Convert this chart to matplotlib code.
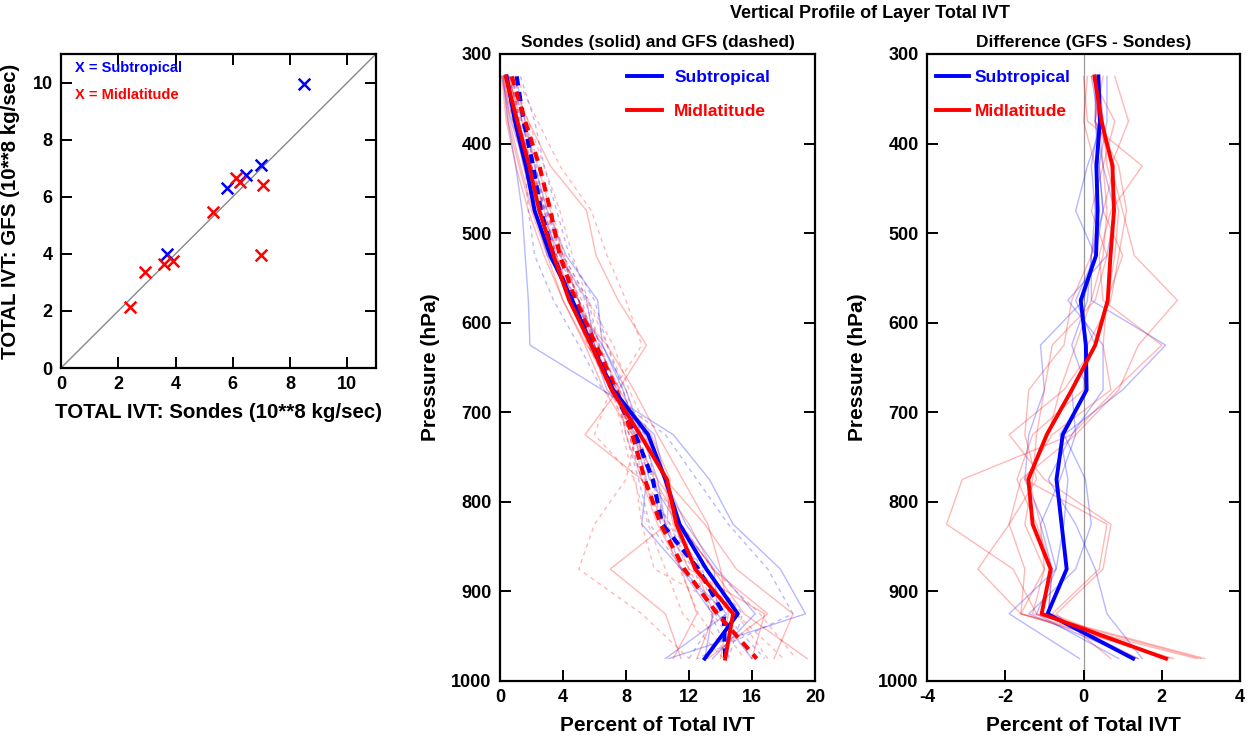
import matplotlib
matplotlib.use("Agg")
import matplotlib.pyplot as plt
import numpy as np

plt.rcParams['font.family'] = ['Liberation Sans', 'DejaVu Sans']
plt.rcParams['font.weight'] = 'bold'
plt.rcParams['axes.unicode_minus'] = False

# ---------------- scatter data ----------------
sub_sondes = [3.7, 5.8, 6.45, 7.0, 8.5]
sub_gfs = [4.0, 6.3, 6.75, 7.1, 9.95]
mid_sondes = [2.4, 2.95, 3.6, 3.9, 5.3, 6.1, 6.25, 7.05, 7.0]
mid_gfs = [2.15, 3.35, 3.65, 3.75, 5.45, 6.65, 6.5, 6.4, 3.95]

# ---------------- profile data ----------------
levels = [325, 375, 425, 475, 525, 575, 625, 675, 725, 775, 825, 875, 925, 975]

sub_sonde_mean = [0.42, 0.95, 1.65, 2.2, 3.2, 4.6, 5.8, 7.2, 9.4, 10.5, 11.4, 13.1, 15.1, 13.0]
sub_gfs_mean = [1.06, 1.5, 2.1, 2.6, 3.4, 4.5, 5.9, 7.2, 8.6, 9.7, 10.3, 12.6, 14.2, 14.3]
mid_sonde_mean = [0.36, 1.1, 1.85, 2.5, 3.4, 4.4, 5.8, 7.1, 8.9, 10.6, 11.2, 12.4, 14.8, 14.3]
mid_gfs_mean = [0.74, 1.6, 2.5, 3.2, 3.8, 4.8, 6.1, 7.4, 8.4, 9.2, 10.2, 11.7, 13.8, 16.3]

sub_sonde_cases = [
    [0.2, 0.5, 1.0, 1.4, 1.6, 1.8, 1.9, 6.5, 11.0, 13.3, 14.8, 17.8, 19.4, 10.7],
    [1.0, 1.6, 2.2, 3.0, 4.2, 6.2, 6.5, 8.0, 9.0, 10.0, 10.5, 11.5, 13.5, 13.0],
    [0.5, 0.9, 1.5, 2.4, 3.5, 4.6, 6.5, 7.8, 8.7, 9.5, 11.3, 13.6, 13.8, 16.0],
    [0.3, 1.0, 2.0, 2.2, 3.0, 5.0, 5.8, 6.8, 9.8, 10.5, 11.8, 13.8, 16.2, 13.5],
    [0.1, 0.7, 1.6, 2.6, 3.8, 5.5, 6.0, 7.2, 8.5, 9.3, 9.0, 11.5, 14.4, 10.5],
]
sub_gfs_cases = [
    [0.8, 1.2, 1.6, 1.8, 2.2, 3.4, 5.0, 6.5, 10.5, 12.5, 14.5, 17.0, 18.6, 12.5],
    [1.3, 2.2, 2.8, 3.6, 4.4, 6.0, 6.8, 7.8, 8.8, 9.7, 10.2, 12.3, 13.4, 14.6],
    [0.8, 1.4, 2.0, 2.9, 3.9, 5.0, 6.2, 7.6, 8.2, 9.0, 10.8, 12.8, 14.2, 16.8],
    [0.6, 1.3, 2.3, 2.8, 3.6, 5.2, 6.0, 7.0, 9.2, 9.8, 10.5, 13.0, 15.4, 14.5],
    [0.4, 1.0, 1.8, 2.9, 4.0, 5.6, 6.3, 7.4, 8.0, 8.8, 9.5, 11.6, 13.8, 12.0],
]
mid_sonde_cases = [
    [0.3, 1.8, 3.2, 5.5, 6.1, 7.5, 9.3, 7.5, 8.0, 9.0, 10.0, 11.5, 12.5, 11.0],
    [0.2, 0.5, 1.2, 2.0, 3.0, 4.0, 5.5, 7.5, 5.4, 9.0, 10.5, 12.0, 16.8, 16.0],
    [0.6, 1.2, 2.0, 2.8, 3.6, 4.6, 6.0, 7.2, 9.6, 10.8, 10.6, 7.0, 10.5, 11.5],
    [0.4, 0.9, 1.5, 2.2, 3.2, 4.4, 5.6, 7.0, 8.8, 10.5, 13.0, 15.0, 18.6, 17.4],
    [0.1, 0.4, 1.0, 1.8, 2.8, 4.0, 5.4, 6.6, 8.4, 10.0, 12.0, 13.5, 15.5, 19.5],
    [0.5, 1.4, 2.4, 3.2, 4.0, 5.0, 6.2, 7.6, 9.2, 10.4, 11.0, 12.4, 13.6, 12.5],
    [0.2, 0.8, 1.6, 2.5, 3.4, 4.3, 6.8, 8.5, 10.0, 11.6, 13.2, 14.0, 14.5, 14.0],
    [0.3, 0.6, 1.3, 2.1, 3.1, 5.0, 6.0, 7.0, 8.6, 9.8, 11.5, 13.5, 17.0, 13.2],
]
mid_gfs_cases = [
    [1.0, 2.4, 3.8, 5.8, 6.8, 8.0, 9.0, 7.2, 7.8, 8.5, 9.4, 10.5, 11.6, 14.2],
    [0.5, 1.0, 1.8, 2.6, 3.6, 4.5, 5.6, 7.0, 6.0, 8.6, 9.0, 9.8, 15.0, 18.0],
    [0.9, 1.6, 2.5, 3.3, 4.1, 5.0, 6.4, 7.4, 8.6, 8.0, 6.0, 5.0, 9.0, 12.0],
    [0.7, 1.4, 2.2, 3.0, 3.9, 5.0, 6.0, 7.2, 8.4, 9.6, 11.5, 13.5, 16.5, 18.8],
    [0.3, 0.8, 1.6, 2.5, 3.4, 4.6, 5.8, 7.0, 8.2, 9.2, 10.8, 12.0, 13.5, 15.5],
    [0.8, 1.8, 2.8, 3.8, 4.6, 5.6, 6.8, 8.0, 8.8, 9.2, 10.2, 11.4, 12.6, 14.6],
    [0.4, 1.1, 2.0, 3.0, 4.0, 5.6, 7.2, 8.2, 9.5, 10.5, 11.5, 12.4, 14.0, 16.0],
    [0.6, 1.2, 2.0, 2.8, 3.8, 5.4, 6.3, 7.4, 8.2, 9.0, 10.4, 12.6, 15.0, 17.0],
]

sub_diff_mean = [0.38, 0.42, 0.33, 0.36, 0.32, -0.07, 0.06, 0.08, -0.53, -0.69, -0.56, -0.43, -0.92, 1.27]
mid_diff_mean = [0.28, 0.46, 0.74, 0.78, 0.69, 0.62, 0.30, -0.3, -0.94, -1.41, -1.30, -0.84, -1.07, 2.11]

sub_diff_cases = [
    [0.4, 0.5, 0.1, -0.2, 0.3, 0.0, -1.1, -1.0, -1.4, -1.5, -1.0, -0.7, -1.9, -0.1],
    [0.6, 0.6, 0.4, 0.5, 0.2, 0.2, 2.1, 1.0, -0.5, 0.05, 0.2, -0.2, -1.4, 1.4],
    [0.3, 0.3, 0.5, 0.8, 0.6, -0.4, 0.5, 0.5, -0.3, -0.9, -0.2, 0.3, 0.6, 1.5],
    [0.2, 0.4, 0.2, 0.3, 0.2, 0.1, -0.3, 0.1, -0.6, -0.4, -0.5, -0.7, -1.2, 0.9],
    [0.35, 0.3, 0.4, 0.5, 0.3, -0.2, 0.3, -0.3, -0.2, -0.6, -1.1, -0.8, -0.9, 1.3],
]
mid_diff_cases = [
    [0.8, 1.15, 0.7, 1.0, 1.3, 2.4, 1.4, 0.9, -0.2, -1.6, -1.9, -1.5, -1.6, 2.3],
    [0.0, 0.1, 1.5, 0.7, 0.4, 0.5, 2.0, 0.8, -0.3, -3.1, -3.5, -1.8, -1.2, 3.1],
    [0.1, 0.0, 0.3, 0.4, 0.2, -0.3, -0.5, -1.4, -1.5, -1.2, -1.9, -2.7, -1.6, 2.9],
    [0.3, 0.5, 0.6, 0.9, 0.8, 0.6, 0.3, -0.5, -1.9, -1.0, 0.7, 0.5, -0.7, 0.7],
    [0.4, 0.3, 0.8, 0.5, 1.0, 0.6, 0.5, 0.7, -0.8, -1.5, 0.6, 0.4, -0.8, 2.0],
    [0.2, 0.8, 0.5, 0.2, 0.6, 0.3, -0.8, -1.0, -1.2, -1.3, -1.5, -1.0, -1.6, 2.2],
    [0.5, 0.3, 0.9, 1.1, 0.9, 0.7, 0.1, 0.0, -1.3, -1.7, -1.2, -0.8, -0.9, 1.4],
    [0.3, 0.4, 0.5, 0.6, 0.5, 0.2, -0.2, -0.6, -0.9, -1.4, -1.1, -1.0, -1.3, 3.0],
]

scatter_ticks = [0, 2, 4, 6, 8, 10]
p_ticks = [300, 400, 500, 600, 700, 800, 900, 1000]
mid_xticks = [0, 4, 8, 12, 16, 20]
diff_xticks = [-4, -2, 0, 2, 4]

BLUE = '#0000ff'
RED = '#ff0000'
W = 1250.0
H = 738.0

fig = plt.figure(figsize=(12.5, 7.38), dpi=100)


def px_axes(l, t, r, b):
    return fig.add_axes([l / W, 1 - b / H, (r - l) / W, (b - t) / H])


def style(ax, right=True, top=False):
    for s in ax.spines.values():
        s.set_linewidth(1.6)
    ax.tick_params(direction='in', length=8, width=1.4, labelsize=13,
                   right=right, top=top, pad=6)
    for lab in ax.get_xticklabels() + ax.get_yticklabels():
        lab.set_fontweight('bold')


# ---------------- scatter ----------------
ax1 = px_axes(61, 54, 376, 368)
ax1.plot([0, 11], [0, 11], color='#888888', lw=1.0, zorder=1)
ax1.scatter(sub_sondes, sub_gfs, marker='x', s=70, color=BLUE, linewidths=1.8, zorder=3)
ax1.scatter(mid_sondes, mid_gfs, marker='x', s=70, color=RED, linewidths=1.8, zorder=3)
ax1.set_xlim(0, 11)
ax1.set_ylim(0, 11)
ax1.set_xticks(scatter_ticks)
ax1.set_yticks(scatter_ticks)
style(ax1, right=True, top=True)
ax1.set_xlabel('TOTAL IVT: Sondes (10**8 kg/sec)', fontsize=14.8, fontweight='bold', labelpad=7)
ax1.set_ylabel('TOTAL IVT: GFS (10**8 kg/sec)', fontsize=14.8, fontweight='bold', labelpad=9)
ax1.text(0.045, 0.955, 'X = Subtropical', transform=ax1.transAxes, color=BLUE,
         fontsize=10.5, fontweight='bold', va='center', ha='left')
ax1.text(0.045, 0.87, 'X = Midlatitude', transform=ax1.transAxes, color=RED,
         fontsize=10.5, fontweight='bold', va='center', ha='left')

# ---------------- middle panel ----------------
ax2 = px_axes(500, 54, 815, 681)
thin_kw = dict(lw=1.0, alpha=0.28)
dash_thin = (0, (3, 3))
for c in sub_sonde_cases:
    ax2.plot(c, levels, color=BLUE, **thin_kw)
for c in sub_gfs_cases:
    ax2.plot(c, levels, color=BLUE, linestyle=dash_thin, **thin_kw)
for c in mid_sonde_cases:
    ax2.plot(c, levels, color=RED, **thin_kw)
for c in mid_gfs_cases:
    ax2.plot(c, levels, color=RED, linestyle=dash_thin, **thin_kw)
dash_thick = (0, (2.2, 1.6))
ax2.plot(sub_gfs_mean, levels, color=BLUE, lw=3.0, linestyle=dash_thick)
ax2.plot(mid_gfs_mean, levels, color=RED, lw=3.0, linestyle=dash_thick)
l1, = ax2.plot(sub_sonde_mean, levels, color=BLUE, lw=2.8, label='Subtropical')
l2, = ax2.plot(mid_sonde_mean, levels, color=RED, lw=2.8, label='Midlatitude')
ax2.set_xlim(0, 20)
ax2.set_ylim(1000, 300)
ax2.set_xticks(mid_xticks)
ax2.set_yticks(p_ticks)
style(ax2, right=True, top=False)
ax2.set_xlabel('Percent of Total IVT', fontsize=15, fontweight='bold', labelpad=7)
ax2.set_ylabel('Pressure (hPa)', fontsize=15, fontweight='bold', labelpad=8)
ax2.set_title('Sondes (solid) and GFS (dashed)', fontsize=12.5, fontweight='bold', pad=5)
ax2.legend(handles=[l1, l2], loc='upper left', bbox_to_anchor=(0.355, 1.0),
           frameon=False, handlelength=2.0, handletextpad=0.7, labelspacing=1.1,
           prop={'size': 12.5, 'weight': 'bold'}, labelcolor='linecolor')

# ---------------- right panel ----------------
ax3 = px_axes(927, 54, 1240, 681)
ax3.axvline(0, color='#999999', lw=0.9, zorder=0)
for c in sub_diff_cases:
    ax3.plot(c, levels, color=BLUE, **thin_kw)
for c in mid_diff_cases:
    ax3.plot(c, levels, color=RED, **thin_kw)
m1, = ax3.plot(sub_diff_mean, levels, color=BLUE, lw=2.8, label='Subtropical')
m2, = ax3.plot(mid_diff_mean, levels, color=RED, lw=2.8, label='Midlatitude')
ax3.set_xlim(-4, 4)
ax3.set_ylim(1000, 300)
ax3.set_xticks(diff_xticks)
ax3.set_yticks(p_ticks)
style(ax3, right=True, top=False)
ax3.set_xlabel('Percent of Total IVT', fontsize=15, fontweight='bold', labelpad=7)
ax3.set_ylabel('Pressure (hPa)', fontsize=15, fontweight='bold', labelpad=8)
ax3.set_title('Difference (GFS - Sondes)', fontsize=12.5, fontweight='bold', pad=5)
ax3.legend(handles=[m1, m2], loc='upper left', bbox_to_anchor=(-0.022, 1.0),
           frameon=False, handlelength=1.9, handletextpad=0.35, labelspacing=1.1,
           prop={'size': 12.5, 'weight': 'bold'}, labelcolor='linecolor')

fig.text(870 / W, 1 - 14 / H, 'Vertical Profile of Layer Total IVT', ha='center', va='center',
         fontsize=13, fontweight='bold')

fig.savefig('out.png', dpi=100)
